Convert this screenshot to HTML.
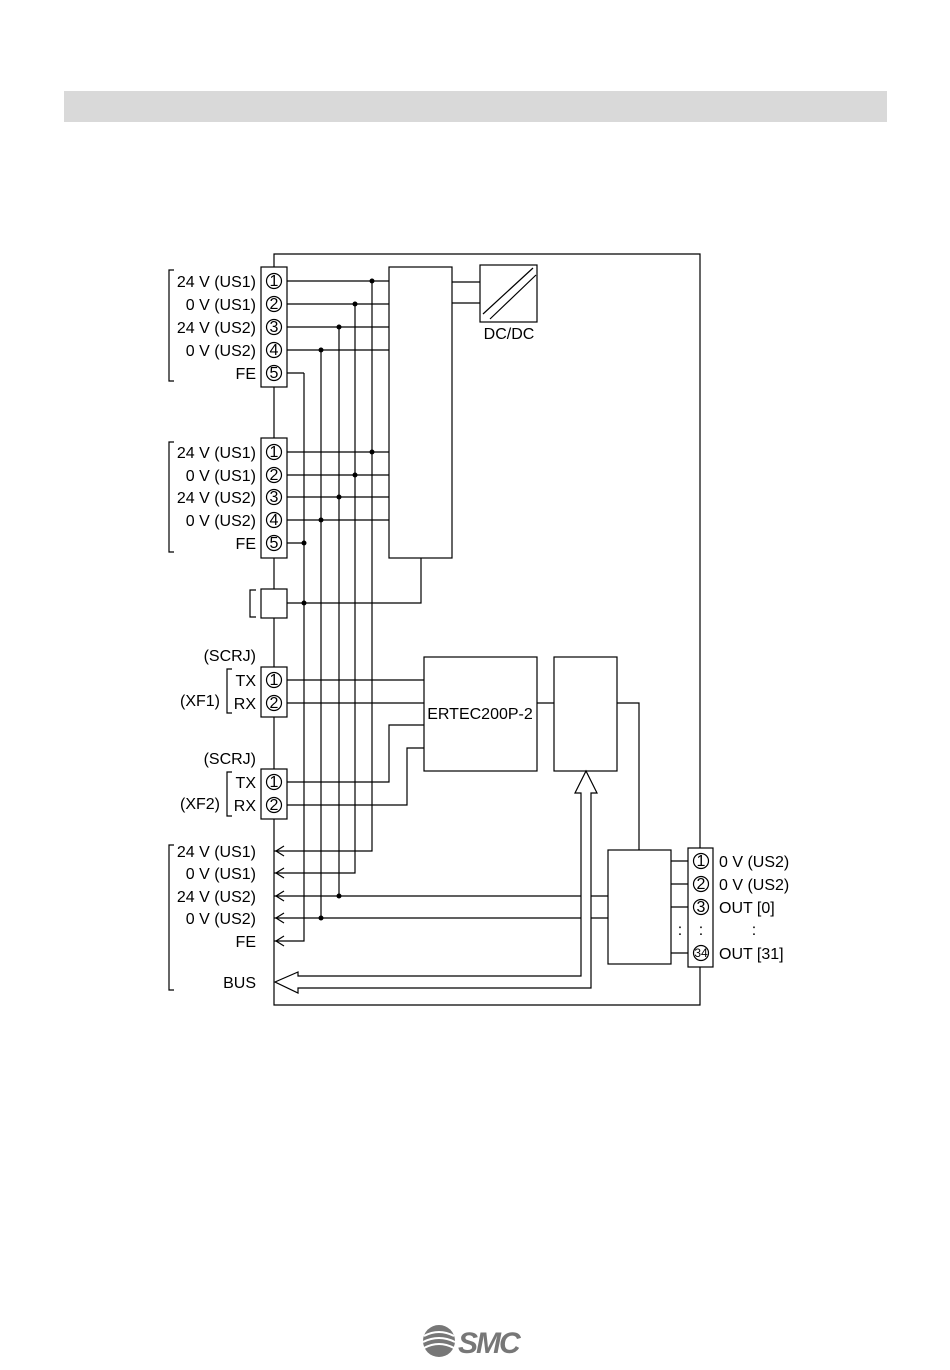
<!DOCTYPE html>
<html><head><meta charset="utf-8"><style>
html,body{margin:0;padding:0;background:#fff}
svg{display:block}
text{font-family:"Liberation Sans",Arial,sans-serif;font-size:16px;fill:#000}
</style></head><body>
<svg width="950" height="1370" viewBox="0 0 950 1370" xmlns="http://www.w3.org/2000/svg">
<rect x="64" y="91" width="823" height="31" fill="#d9d9d9"/>
<g stroke="#000" stroke-width="1.2" fill="none">
<path d="M274 254 H700 V1005 H274 Z"/>
<path d="M372 281 V851 H274 M355 304 V873 H274 M339 327 V896 H274 M321 350 V918 H274 M304 373 V941 H274"/>
<path d="M287 373 H304"/>
<path d="M287 281 H389 M287 304 H389 M287 327 H389 M287 350 H389 M287 452 H389 M287 475 H389 M287 497 H389 M287 520 H389 M287 543 H304"/>
<rect x="389" y="267" width="63" height="291" fill="#fff"/>
<path d="M452 282 H480 M452 303 H480"/>
<rect x="480" y="265" width="57" height="57"/>
<path d="M483 314 L533 268 M490 319 L536 275"/>
<path d="M287 603 H421 V558"/>
<path d="M287 680 H424 M287 703 H424 M287 782 H389 V725 H424 M287 805 H407 V748 H424"/>
<rect x="424" y="657" width="113" height="114"/>
<path d="M537 703 H554"/>
<rect x="554" y="657" width="63" height="114"/>
<path d="M617 703 H639 V850"/>
<path d="M339 896 H581 M591 896 H608 M321 918 H581 M591 918 H608"/>
<rect x="608" y="850" width="63" height="114"/>
<path d="M671 861 H694 M671 884 H694 M671 907 H694 M671 953 H694"/>
<path d="M581 793 V976 H298 V972 L275 982 L298 993 V988 H591 V793 H597 L586 771 L575 793 Z" fill="#fff"/>
<path d="M284 846 L276 851 L284 856 M284 868 L276 873 L284 878 M284 891 L276 896 L284 901 M284 913 L276 918 L284 923 M284 936 L276 941 L284 946"/>
<path d="M174 270 H169 V381 H174 M174 442 H169 V552 H174 M256 590 H250 V617 H256 M232 669 H227 V713 H232 M232 772 H227 V816 H232 M174 845 H169 V990 H174"/>
<rect x="261" y="267" width="26" height="120" fill="#fff"/>
<rect x="261" y="438" width="26" height="120" fill="#fff"/>
<rect x="261" y="589" width="26" height="29" fill="#fff"/>
<rect x="261" y="667" width="26" height="50" fill="#fff"/>
<rect x="261" y="769" width="26" height="50" fill="#fff"/>
<rect x="688" y="848" width="25" height="119" fill="#fff"/>
<g fill="#fff">
<circle cx="274" cy="281" r="7.5"/><circle cx="274" cy="304" r="7.5"/><circle cx="274" cy="327" r="7.5"/><circle cx="274" cy="350" r="7.5"/><circle cx="274" cy="373" r="7.5"/>
<circle cx="274" cy="452" r="7.5"/><circle cx="274" cy="475" r="7.5"/><circle cx="274" cy="497" r="7.5"/><circle cx="274" cy="520" r="7.5"/><circle cx="274" cy="543" r="7.5"/>
<circle cx="274" cy="680" r="7.5"/><circle cx="274" cy="703" r="7.5"/><circle cx="274" cy="782" r="7.5"/><circle cx="274" cy="805" r="7.5"/>
<circle cx="701" cy="861" r="7.5"/><circle cx="701" cy="884" r="7.5"/><circle cx="701" cy="907" r="7.5"/><circle cx="701" cy="953" r="7.5"/>
</g>
</g>
<g fill="#000">
<circle cx="372" cy="281" r="2.5"/><circle cx="355" cy="304" r="2.5"/><circle cx="339" cy="327" r="2.5"/><circle cx="321" cy="350" r="2.5"/>
<circle cx="372" cy="452" r="2.5"/><circle cx="355" cy="475" r="2.5"/><circle cx="339" cy="497" r="2.5"/><circle cx="321" cy="520" r="2.5"/><circle cx="304" cy="543" r="2.5"/>
<circle cx="304" cy="603" r="2.5"/><circle cx="339" cy="896" r="2.5"/><circle cx="321" cy="918" r="2.5"/>
</g>
<g text-anchor="middle" style="font-size:14px">
<text x="274" y="286">1</text><text x="274" y="309">2</text><text x="274" y="332">3</text><text x="274" y="355">4</text><text x="274" y="378">5</text>
<text x="274" y="457">1</text><text x="274" y="480">2</text><text x="274" y="502">3</text><text x="274" y="525">4</text><text x="274" y="548">5</text>
<text x="274" y="685">1</text><text x="274" y="708">2</text><text x="274" y="787">1</text><text x="274" y="810">2</text>
<text x="701" y="866">1</text><text x="701" y="889">2</text><text x="701" y="912">3</text><text x="701" y="957" style="font-size:12px">34</text>
</g>
<g text-anchor="end">
<text x="256" y="287">24 V (US1)</text><text x="256" y="310">0 V (US1)</text><text x="256" y="333">24 V (US2)</text><text x="256" y="356">0 V (US2)</text><text x="256" y="379">FE</text>
<text x="256" y="458">24 V (US1)</text><text x="256" y="481">0 V (US1)</text><text x="256" y="503">24 V (US2)</text><text x="256" y="526">0 V (US2)</text><text x="256" y="549">FE</text>
<text x="256" y="661">(SCRJ)</text><text x="256" y="686">TX</text><text x="256" y="709">RX</text><text x="220" y="706">(XF1)</text>
<text x="256" y="764">(SCRJ)</text><text x="256" y="788">TX</text><text x="256" y="811">RX</text><text x="220" y="809">(XF2)</text>
<text x="256" y="857">24 V (US1)</text><text x="256" y="879">0 V (US1)</text><text x="256" y="902">24 V (US2)</text><text x="256" y="924">0 V (US2)</text><text x="256" y="947">FE</text><text x="256" y="988">BUS</text>
</g>
<text x="509" y="339" text-anchor="middle">DC/DC</text>
<text x="480" y="719" text-anchor="middle">ERTEC200P-2</text>
<text x="719" y="867">0 V (US2)</text><text x="719" y="890">0 V (US2)</text><text x="719" y="913">OUT [0]</text><text x="719" y="959">OUT [31]</text>
<text x="680" y="935" text-anchor="middle">:</text><text x="701" y="935" text-anchor="middle">:</text><text x="754" y="935" text-anchor="middle">:</text>
<circle cx="439" cy="1341" r="16" fill="#777"/>
<path d="M424 1336 Q439 1328 454 1336 M423 1342 Q439 1334 455 1342 M424 1348 Q439 1340 454 1348" stroke="#fff" stroke-width="2" fill="none"/>
<text x="458" y="1353" style="font-size:30px;font-weight:bold;font-style:italic;fill:#777;letter-spacing:-2px">SMC</text>
</svg>
</body></html>
